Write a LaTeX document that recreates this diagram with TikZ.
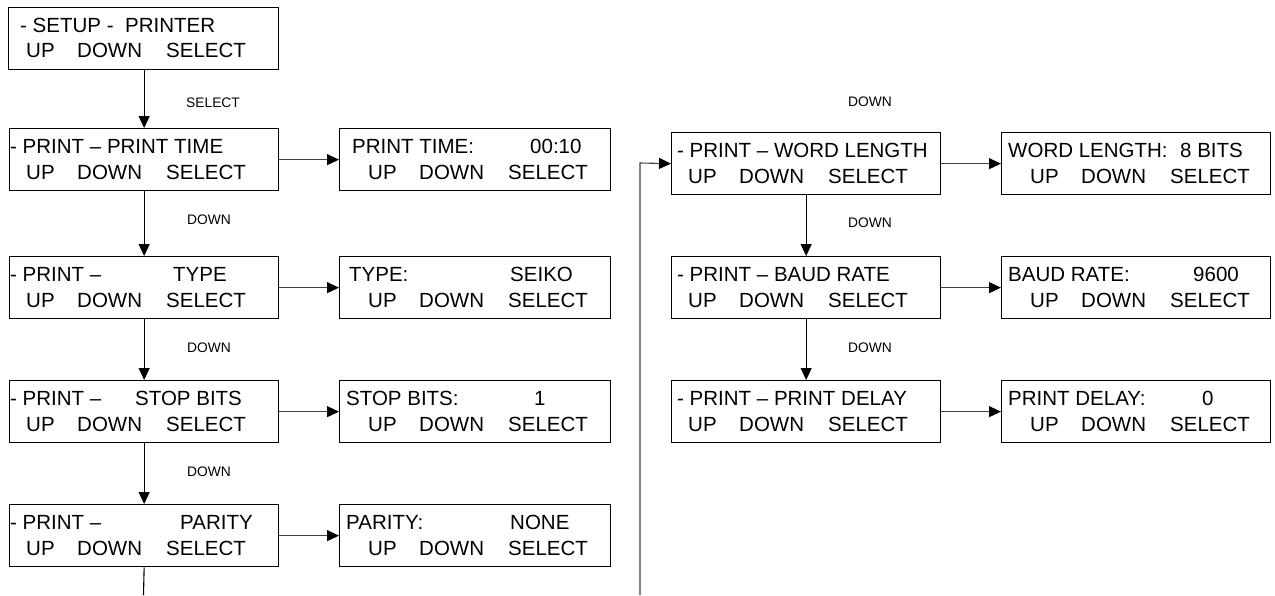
\documentclass[tikz,border=0pt]{standalone}
\usepackage{fontspec}
\setmainfont{Liberation Sans}
\usetikzlibrary{arrows.meta}
\tikzset{
  lcd/.style={draw, line width=1.3pt, rectangle, inner sep=0pt, minimum width=269pt, minimum height=62pt, anchor=north west},
  txt/.style={inner sep=0pt, anchor=base west, font=\fontsize{20.5}{24}\selectfont},
  lbl/.style={inner sep=0pt, anchor=base west, font=\fontsize{13.8}{16}\selectfont},
  varrow/.style={line width=1.1pt, -{Triangle[length=12pt,width=11pt]}},
  harrow/.style={line width=1.1pt, draw=black!75, -{Triangle[length=12pt,width=11pt,fill=black,color=black]}},
  plainline/.style={line width=1.1pt, draw=black!75},
}
\newcommand\keyrow[3]{%
  \node[txt] (#1u) at (#2,#3) {UP};
  \node[txt] (#1d) at (#2+51,#3) {DOWN};
  \node[txt] (#1s) at (#2+140,#3) {SELECT};}
\begin{document}
\begin{tikzpicture}[x=1pt,y=-1pt]
\useasboundingbox (0,0) rectangle (1275,595);

% ---- top box
\node[lcd, minimum width=270pt] (b1) at (8,7) {};
\node[txt] (b1a) at (20,32) {- SETUP -};
\node[txt] (b1b) at (125,32) {PRINTER};
\keyrow{b1}{26}{57}

% ---- left column
\node[lcd] (b2) at (9,128) {};
\node[txt] (b2a) at (10,153) {- PRINT – PRINT TIME};
\keyrow{b2}{26}{179}
\node[lcd] (b3) at (9,256) {};
\node[txt] (b3a) at (10,281) {- PRINT –};
\node[txt] (b3b) at (173,281) {TYPE};
\keyrow{b3}{26}{307}
\node[lcd] (b4) at (9,380) {};
\node[txt] (b4a) at (10,405) {- PRINT –};
\node[txt] (b4b) at (135,405) {STOP BITS};
\keyrow{b4}{26}{431}
\node[lcd] (b5) at (9,504) {};
\node[txt] (b5a) at (10,529) {- PRINT –};
\node[txt] (b5b) at (180,529) {PARITY};
\keyrow{b5}{26}{555}

% ---- middle value boxes
\node[lcd, minimum width=271pt] (v2) at (339,128) {};
\node[txt] (v2a) at (352,153) {PRINT TIME:};
\node[txt] (v2b) at (530,153) {00:10};
\keyrow{v2}{368}{179}
\node[lcd, minimum width=271pt] (v3) at (339,256) {};
\node[txt] (v3a) at (349,281) {TYPE:};
\node[txt] (v3b) at (510,281) {SEIKO};
\keyrow{v3}{368}{307}
\node[lcd, minimum width=271pt] (v4) at (339,380) {};
\node[txt] (v4a) at (346,405) {STOP BITS:};
\node[txt] (v4b) at (534,405) {1};
\keyrow{v4}{368}{431}
\node[lcd, minimum width=271pt] (v5) at (339,504) {};
\node[txt] (v5a) at (346,529) {PARITY:};
\node[txt] (v5b) at (510,529) {NONE};
\keyrow{v5}{368}{555}

% ---- right column
\node[lcd] (r1) at (671,132) {};
\node[txt] (r1a) at (677,157) {- PRINT – WORD LENGTH};
\keyrow{r1}{688}{183}
\node[lcd] (r2) at (671,256) {};
\node[txt] (r2a) at (677,281) {- PRINT – BAUD RATE};
\keyrow{r2}{688}{307}
\node[lcd] (r3) at (671,380) {};
\node[txt] (r3a) at (677,405) {- PRINT – PRINT DELAY};
\keyrow{r3}{688}{431}

% ---- far right value boxes
\node[lcd] (w1) at (1001,132) {};
\node[txt] (w1a) at (1008,157) {WORD LENGTH:};
\node[txt] (w1b) at (1180,157) {8 BITS};
\keyrow{w1}{1030}{183}
\node[lcd] (w2) at (1001,256) {};
\node[txt] (w2a) at (1008,281) {BAUD RATE:};
\node[txt] (w2b) at (1193,281) {9600};
\keyrow{w2}{1030}{307}
\node[lcd] (w3) at (1001,380) {};
\node[txt] (w3a) at (1008,405) {PRINT DELAY:};
\node[txt] (w3b) at (1202,405) {0};
\keyrow{w3}{1030}{431}

% ---- labels
\node[lbl] (l1) at (186,107) {SELECT};
\node[lbl] (l2) at (187,224) {DOWN};
\node[lbl] (l3) at (187,352) {DOWN};
\node[lbl] (l4) at (187,476) {DOWN};
\node[lbl] (l5) at (848,106) {DOWN};
\node[lbl] (l6) at (848,227) {DOWN};
\node[lbl] (l7) at (848,352) {DOWN};

% ---- connectors
\coordinate (bend) at (143.5,595);
\coordinate (fbot) at (640,595);
\coordinate (ftop) at (640,163);
\draw[varrow] (b1.south -| b2.north) -- (b2.north);
\draw[varrow] (b2.south) -- (b3.north);
\draw[varrow] (b3.south) -- (b4.north);
\draw[varrow] (b4.south) -- (b5.north);
\draw[plainline, draw=black] (b5.south) -- (bend);
\draw[harrow] (b2.east) -- (v2.west);
\draw[harrow] (b3.east) -- (v3.west);
\draw[harrow] (b4.east) -- (v4.west);
\draw[harrow] (b5.east) -- (v5.west);
\draw[varrow] (r1.south) -- (r2.north);
\draw[varrow] (r2.south) -- (r3.north);
\draw[harrow] (r1.east) -- (w1.west);
\draw[harrow] (r2.east) -- (w2.west);
\draw[harrow] (r3.east) -- (w3.west);
\draw[harrow] (fbot) -- (ftop) -- (r1.west);
\end{tikzpicture}
\end{document}
